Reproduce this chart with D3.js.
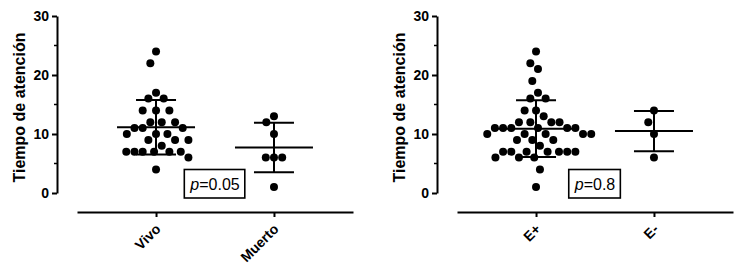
<!DOCTYPE html>
<html>
<head>
<meta charset="utf-8">
<script src="https://cdn.jsdelivr.net/npm/d3@7"></script>
<style>
  html, body { margin: 0; padding: 0; background: #fff; }
  svg { display: block; }
  text { font-family: Arial, "Liberation Sans", sans-serif; }
</style>
</head>
<body>
<svg id="chart" width="750" height="276"></svg>
<script>
// ---- Data ----
const yTitle = "Tiempo de atención";
const yTicks = [0, 10, 20, 30];
const yMinorTicks = [5, 15, 25];

const leftCategories = ["Vivo", "Muerto"];
const vivo = [24, 22, 17, 16, 16, 14, 14, 14, 12, 12, 12, 11, 11, 11, 10, 10, 10, 9, 9, 9, 8, 7, 7, 7, 7, 7, 7, 6, 4];
const muerto = [13, 12, 10, 6, 6, 6, 1];
const leftP = "0.05";

const rightCategories = ["E+", "E-"];
const ePos = [24, 22, 21, 19, 17, 16, 16, 14, 14, 13, 12, 12, 12, 12, 11, 11, 11, 11, 11, 11,
              10, 10, 10, 10, 10, 9, 9, 9, 8, 7, 7, 7, 7, 7, 7, 7, 6, 6, 6, 4, 1];
const eNeg = [14, 12, 10, 6];
const rightP = "0.8";

// ---- Drawing ----
const svg = d3.select("#chart");
const R = 4;        // dot radius
const D = 8.2;      // collision distance
const VS = 0.5;     // vertical squash of collision (spreads points sideways)

function swarm(values, y) {
  const pts = values.map(v => ({ v, py: y(v), dx: 0 }))
    .sort((a, b) => b.v - a.v);
  const placed = [];
  pts.forEach((p, k) => {
    const cands = [0];
    placed.forEach(q => {
      const dy = Math.abs(q.py - p.py) * VS;
      if (dy < D) {
        const dx = Math.sqrt(D * D - dy * dy);
        cands.push(q.dx + dx, q.dx - dx);
      }
    });
    const ok = cands.filter(c => placed.every(q => {
      const dy = (q.py - p.py) * VS, dx = q.dx - c;
      return dx * dx + dy * dy >= D * D - 0.01;
    }));
    ok.sort((a, b) => (Math.abs(a) - Math.abs(b)) || (k % 2 ? a - b : b - a));
    p.dx = ok[0];
    placed.push(p);
  });
  return pts;
}

function panel(offsetX, categories, groups, pText) {
  const g = svg.append("g").attr("transform", `translate(${offsetX},0)`);
  const y = d3.scaleLinear().domain([0, 30]).range([193, 16]);
  const x = d3.scalePoint().domain(categories).range([77, 353]).padding(0.67);

  // y axis
  const yAxis = g.append("g").attr("transform", "translate(57,0)")
    .call(d3.axisLeft(y).tickValues(yTicks).tickSize(5).tickSizeOuter(0).tickPadding(3));
  yAxis.select(".domain").attr("stroke", "#000").attr("stroke-width", 2);
  yAxis.selectAll(".tick line").attr("stroke", "#000").attr("stroke-width", 2);
  yAxis.selectAll(".tick text").attr("font-size", 14).attr("font-weight", "bold")
    .attr("font-family", "Arial, 'Liberation Sans', sans-serif").attr("fill", "#000");
  g.append("g").selectAll("line").data(yMinorTicks).join("line")
    .attr("x1", 54).attr("x2", 57).attr("y1", d => y(d)).attr("y2", d => y(d))
    .attr("stroke", "#000").attr("stroke-width", 1.5);

  g.append("text")
    .attr("transform", `translate(25,${(16 + 193) / 2 + 3}) rotate(-90)`)
    .attr("text-anchor", "middle")
    .attr("font-size", 16).attr("font-weight", "bold").attr("fill", "#000")
    .text(yTitle);

  // x axis
  const xAxis = g.append("g").attr("transform", "translate(0,212)")
    .call(d3.axisBottom(x).tickSize(5).tickSizeOuter(0));
  xAxis.select(".domain").attr("stroke", "#000").attr("stroke-width", 2);
  xAxis.selectAll(".tick line").attr("stroke", "#000").attr("stroke-width", 2);
  xAxis.selectAll(".tick text")
    .attr("x", 0).attr("y", 0).attr("dy", null)
    .attr("transform", "translate(5,18) rotate(-45)")
    .attr("text-anchor", "end")
    .attr("font-size", 14).attr("font-weight", "bold")
    .attr("font-family", "Arial, 'Liberation Sans', sans-serif").attr("fill", "#000");

  // dots + error bars
  categories.forEach((c, i) => {
    const vals = groups[i];
    const cx = x(c);
    const pts = swarm(vals, y);
    g.append("g").selectAll("circle").data(pts).join("circle")
      .attr("cx", d => cx + d.dx).attr("cy", d => d.py).attr("r", R).attr("fill", "#000");

    const m = d3.mean(vals), s = d3.deviation(vals);
    const bars = g.append("g").attr("stroke", "#000").attr("stroke-width", 2);
    bars.append("line").attr("x1", cx - 39).attr("x2", cx + 39).attr("y1", y(m)).attr("y2", y(m));
    bars.append("line").attr("x1", cx).attr("x2", cx).attr("y1", y(m + s)).attr("y2", y(m - s));
    [m + s, m - s].forEach(v => {
      bars.append("line").attr("x1", cx - 20).attr("x2", cx + 20).attr("y1", y(v)).attr("y2", y(v));
    });
  });

  // p-value box
  const bx = (x(categories[0]) + x(categories[1])) / 2;
  const box = g.append("g");
  const rect = box.append("rect");
  const t = box.append("text").attr("x", bx).attr("y", 190)
    .attr("text-anchor", "middle").attr("font-size", 16).attr("fill", "#000");
  t.append("tspan").attr("font-style", "italic").text("p");
  t.append("tspan").text("=" + pText);
  const bb = t.node().getBBox();
  rect.attr("x", bb.x - 5).attr("y", 169.5).attr("width", bb.width + 10).attr("height", 28.5)
    .attr("fill", "#fff").attr("stroke", "#000").attr("stroke-width", 1.6);
}

panel(0, leftCategories, [vivo, muerto], leftP);
panel(380, rightCategories, [ePos, eNeg], rightP);
</script>
</body>
</html>
